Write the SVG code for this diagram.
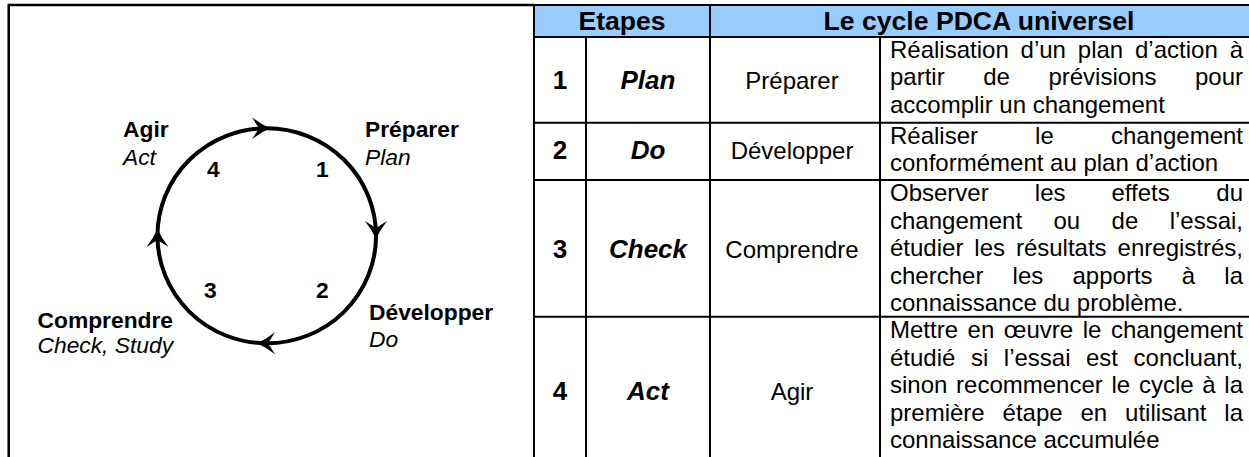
<svg xmlns="http://www.w3.org/2000/svg" width="1249" height="457" viewBox="0 0 1249 457">
<defs>
<style>
.lbl{font-family:"Liberation Sans",Arial,sans-serif;font-size:22.8px;fill:#000}
.b{font-weight:bold}
.i{font-style:italic}
.hd{font-family:"Liberation Sans",Arial,sans-serif;font-size:26.6px;font-weight:bold;fill:#000}
.num{font-family:"Liberation Sans",Arial,sans-serif;font-size:26px;font-weight:bold;fill:#000}
.step{font-family:"Liberation Sans",Arial,sans-serif;font-size:26px;font-weight:bold;font-style:italic;fill:#000}
.mid{font-family:"Liberation Sans",Arial,sans-serif;font-size:24px;fill:#000}
.d{font-family:"Liberation Sans",Arial,sans-serif;font-size:24px;fill:#000}
.e{text-anchor:end}
.c{text-anchor:middle}
.grid{stroke:#000;stroke-width:2;fill:none}
</style>
<path id="ah" d="M1,0 Q-8,-4 -17,-11 L-10,0 L-17,11 Q-8,4 1,0 Z" fill="#000"/>
</defs>
<rect width="1249" height="457" fill="#fff"/>

<g id="frame">
<path d="M8.7,470 L8.7,5 L534,5" stroke="#000" stroke-width="2.5" fill="none"/>
</g>

<g id="connectors">
<ellipse cx="266.75" cy="235.8" rx="109.3" ry="107.5" fill="none" stroke="#000" stroke-width="4"/>
<use href="#ah" transform="translate(269,128.3)"/>
<use href="#ah" transform="translate(376,238) rotate(90)"/>
<use href="#ah" transform="translate(258,343.3) rotate(180)"/>
<use href="#ah" transform="translate(157.5,230) rotate(-90)"/>
</g>

<g id="node-agir">
<text class="lbl b" x="123" y="137">Agir</text>
<text class="lbl i" x="123" y="165">Act</text>
<text class="lbl b" x="207" y="177">4</text>
</g>
<g id="node-preparer">
<text class="lbl b" x="365" y="137">Préparer</text>
<text class="lbl i" x="365" y="165">Plan</text>
<text class="lbl b" x="316" y="177">1</text>
</g>
<g id="node-developper">
<text class="lbl b" x="369" y="320">Développer</text>
<text class="lbl i" x="369" y="347">Do</text>
<text class="lbl b" x="316" y="298">2</text>
</g>
<g id="node-comprendre">
<text class="lbl b" x="37.5" y="328">Comprendre</text>
<text class="lbl i" x="37.5" y="353">Check, Study</text>
<text class="lbl b" x="204" y="298">3</text>
</g>

<g id="table">
<rect x="534" y="5" width="720" height="32" fill="#99CCFF"/>
<g class="grid">
<path d="M534,5 L1254,5 M534,37 L1254,37 M534,122.7 L1254,122.7 M534,180 L1254,180 M534,316.7 L1254,316.7"/>
<path d="M534,4 L534,470 M586,37 L586,470 M710,4 L710,470 M880,37 L880,470"/>
</g>
<text class="hd c" x="622" y="30">Etapes</text>
<text class="hd c" x="979" y="30">Le cycle PDCA universel</text>

<g id="row1">
<text class="num c" x="560" y="88.5">1</text>
<text class="step c" x="648" y="88.5">Plan</text>
<text class="mid c" x="792" y="88.5">Préparer</text>
<text class="d" x="890" y="57.5">Réalisation</text><text class="d" x="1020.6" y="57.5">d’un</text><text class="d" x="1077.8" y="57.5">plan</text><text class="d" x="1135" y="57.5">d’action</text><text class="d e" x="1243" y="57.5">à</text>
<text class="d" x="890" y="85.1">partir</text><text class="d" x="983.2" y="85.1">de</text><text class="d" x="1048.4" y="85.1">prévisions</text><text class="d e" x="1243" y="85.1">pour</text>
<text class="d" x="890" y="112.7">accomplir un changement</text>
</g>
<g id="row2">
<text class="num c" x="560" y="159">2</text>
<text class="step c" x="648" y="159">Do</text>
<text class="mid c" x="792" y="159">Développer</text>
<text class="d" x="890" y="143.7">Réaliser</text><text class="d" x="1035.1" y="143.7">le</text><text class="d e" x="1243" y="143.7">changement</text>
<text class="d" x="890" y="171.3">conformément au plan d’action</text>
</g>
<g id="row3">
<text class="num c" x="560" y="258">3</text>
<text class="step c" x="648" y="258">Check</text>
<text class="mid c" x="792" y="258">Comprendre</text>
<text class="d" x="890" y="201">Observer</text><text class="d" x="1034.8" y="201">les</text><text class="d" x="1111.5" y="201">effets</text><text class="d e" x="1243" y="201">du</text>
<text class="d" x="890" y="228.6">changement</text><text class="d" x="1053.5" y="228.6">ou</text><text class="d" x="1111.6" y="228.6">de</text><text class="d e" x="1243" y="228.6">l’essai,</text>
<text class="d" x="890" y="256.2">étudier</text><text class="d" x="974.3" y="256.2">les</text><text class="d" x="1015.9" y="256.2">résultats</text><text class="d e" x="1243" y="256.2">enregistrés,</text>
<text class="d" x="890" y="283.8">chercher</text><text class="d" x="1012.6" y="283.8">les</text><text class="d" x="1072.5" y="283.8">apports</text><text class="d" x="1181.8" y="283.8">à</text><text class="d e" x="1243" y="283.8">la</text>
<text class="d" x="890" y="311.4">connaissance du problème.</text>
</g>
<g id="row4">
<text class="num c" x="560" y="400">4</text>
<text class="step c" x="648" y="400">Act</text>
<text class="mid c" x="792" y="400">Agir</text>
<text class="d" x="890" y="338">Mettre</text><text class="d" x="967.6" y="338">en</text><text class="d" x="1003.8" y="338">œuvre</text><text class="d" x="1082.7" y="338">le</text><text class="d e" x="1243" y="338">changement</text>
<text class="d" x="890" y="365.6">étudié</text><text class="d" x="970.9" y="365.6">si</text><text class="d" x="1003.8" y="365.6">l’essai</text><text class="d" x="1086" y="365.6">est</text><text class="d e" x="1243" y="365.6">concluant,</text>
<text class="d" x="890" y="393.2">sinon</text><text class="d" x="956.1" y="393.2">recommencer</text><text class="d" x="1111.5" y="393.2">le</text><text class="d" x="1138.9" y="393.2">cycle</text><text class="d" x="1202.3" y="393.2">à</text><text class="d e" x="1243" y="393.2">la</text>
<text class="d" x="890" y="420.8">première</text><text class="d" x="1002.6" y="420.8">étape</text><text class="d" x="1080.5" y="420.8">en</text><text class="d" x="1125.1" y="420.8">utilisant</text><text class="d e" x="1243" y="420.8">la</text>
<text class="d" x="890" y="448.4">connaissance accumulée</text>
</g>
</g>
</svg>
